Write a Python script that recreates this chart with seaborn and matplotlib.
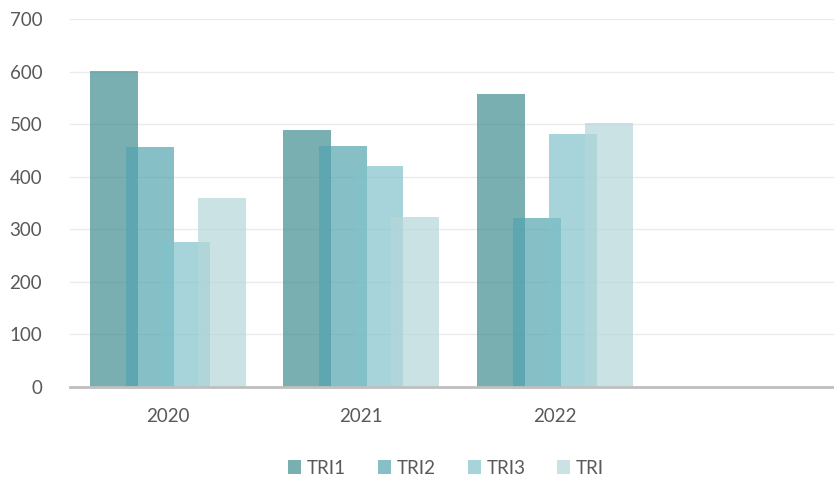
import matplotlib
matplotlib.use("Agg")
import matplotlib.pyplot as plt
import pandas as pd
import seaborn as sns

years = ["2020", "2021", "2022"]
series = ["TRI1", "TRI2", "TRI3", "TRI"]
tri1 = [602, 489, 558]
tri2 = [457, 458, 322]
tri3 = [275, 420, 481]
tri = [360, 323, 502]
colors = ["#428D92", "#54A4B0", "#82C2CB", "#B5D7DB"]

df = pd.DataFrame({
    "year": years * 4,
    "series": [s for s in series for _ in years],
    "value": tri1 + tri2 + tri3 + tri,
})

sns.set_style("white")
plt.rcParams["font.family"] = ["Lato", "DejaVu Sans"]

fig = plt.figure(figsize=(8.34, 4.84), dpi=100)
ax = fig.add_axes([70 / 834, 0.2004, 764 / 834, 0.7603])

sns.barplot(data=df, x="year", y="value", hue="series", order=years,
            hue_order=series, palette=colors, alpha=0.7, width=0.745,
            gap=-1 / 3, saturation=1, errorbar=None, linewidth=0,
            ax=ax, zorder=2)

ax.set_xlim(-0.507, 3.445)
ax.set_ylim(0, 700)
ax.set_yticks(range(0, 701, 100))
ax.grid(axis="y", color="#EBEBEB", linewidth=1, zorder=0)
ax.set_axisbelow(True)
for side in ["top", "right", "left"]:
    ax.spines[side].set_visible(False)
ax.spines["bottom"].set_color("#BFBFBF")
ax.spines["bottom"].set_linewidth(2)
ax.tick_params(axis="y", length=0, pad=20, labelsize=13.5, labelcolor="#595959")
ax.tick_params(axis="x", length=0, pad=15, labelsize=13.5, labelcolor="#595959")
ax.set_xlabel("")
ax.set_ylabel("")

handles, labels = ax.get_legend_handles_labels()
ax.get_legend().remove()
fig.legend(handles, labels, loc="center", bbox_to_anchor=(0.535, 0.033),
           ncol=4, frameon=False, handlelength=0.7, handleheight=0.7,
           handletextpad=0.3, columnspacing=1.7, fontsize=13.5,
           labelcolor="#595959")

fig.savefig("out.png", dpi=100)
